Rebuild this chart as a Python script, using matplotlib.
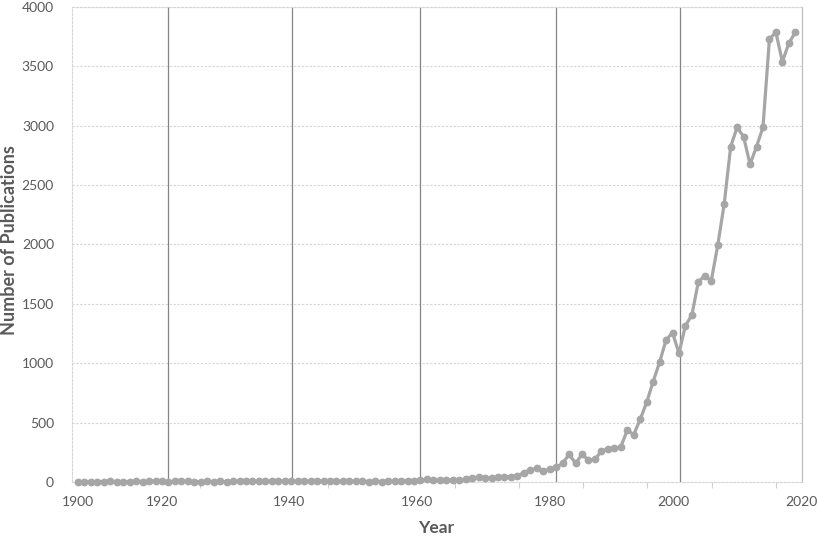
import matplotlib
matplotlib.use("Agg")
import matplotlib.pyplot as plt
import numpy as np

# ---------------- data ----------------
first_year = 1908
pubs_1908_1950 = [2, 3, 4, 3, 4, 5, 4, 3, 4, 5,
                  4, 5, 6, 5, 4, 5, 6, 5, 4, 3,
                  5, 4, 6, 2, 5, 6, 5, 7, 6, 5,
                  6, 7, 6, 5, 7, 6, 5, 6, 7, 5,
                  6, 7, 6]
pubs_1951_1960 = [5, 6, 4, 7, 3, 8, 9, 10, 11, 12]
pubs_1961_1976 = [17, 22, 15, 15, 20, 16, 18, 24, 30, 38, 35, 32, 40, 45, 46, 52]
pubs_1977_2019 = [78, 101, 115, 95, 107, 124, 157, 233, 157, 233,
                  185, 191, 261, 278, 284, 297, 435, 400, 528, 670,
                  845, 1008, 1196, 1258, 1083, 1317, 1406, 1687, 1737, 1695,
                  1993, 2341, 2824, 2987, 2908, 2675, 2824, 2987, 3731, 3787,
                  3539, 3694, 3787]
publications = pubs_1908_1950 + pubs_1951_1960 + pubs_1961_1976 + pubs_1977_2019
years = np.arange(first_year, first_year + len(publications))

x_tick_labels = ["1900", "1920", "1940", "1960", "1980", "2000", "2020"]
y_ticks = [0, 500, 1000, 1500, 2000, 2500, 3000, 3500, 4000]

# ---------------- layout (pixel geometry of the reference) ----------------
W, H = 817, 536
ax_left_px, ax_right_px, ax_top_px, ax_bottom_px = 72, 802, 7, 482
xlim = (1907.07, 2020.04)

def px_to_x(p):
    return xlim[0] + (p - ax_left_px) / (ax_right_px - ax_left_px) * (xlim[1] - xlim[0])

label_px = [78, 162, 289, 417, 550, 673, 801]
grid_px = [168, 292, 420, 556, 680]
minor_px = [200, 328, 455, 519, 583, 647, 712, 776]

plt.rcParams['font.family'] = ['Lato', 'DejaVu Sans']
text_col = '#595959'
line_col = '#a6a6a6'

fig = plt.figure(figsize=(W / 100, H / 100), dpi=100)
ax = fig.add_axes([ax_left_px / W, 1 - ax_bottom_px / H,
                   (ax_right_px - ax_left_px) / W, (ax_bottom_px - ax_top_px) / H])

ax.set_xlim(*xlim)
ax.set_ylim(0, 4000)

# horizontal dotted gridlines
for yv in y_ticks[1:]:
    ax.axhline(yv, color='#d6d6d6', lw=0.8, ls=(0, (2, 1.5)), zorder=1)
# dark vertical gridlines
for gp in grid_px:
    ax.axvline(px_to_x(gp), color='#858585', lw=0.9, zorder=1)

ax.plot(years, publications, color=line_col, lw=2.3, marker='o',
        markersize=4.6, markerfacecolor=line_col, markeredgecolor=line_col,
        zorder=3, clip_on=False)

ax.set_yticks(y_ticks)
ax.set_yticklabels([str(v) for v in y_ticks])
ax.tick_params(axis='y', length=0, pad=13, labelsize=10, labelcolor=text_col)

ax.set_xticks([px_to_x(p) for p in label_px])
ax.set_xticklabels(x_tick_labels)
ax.tick_params(axis='x', which='major', length=0, pad=10, labelsize=10, labelcolor=text_col)
ax.set_xticks([px_to_x(p) for p in minor_px], minor=True)
ax.tick_params(axis='x', which='minor', length=4, width=0.8, color='#d0d0d0', direction='out')

for side in ['left', 'top', 'bottom']:
    ax.spines[side].set_color('#d6d6d6')
    ax.spines[side].set_linewidth(0.8)
    ax.spines[side].set_linestyle((0, (2, 1.5)))
ax.spines['right'].set_color('#bfbfbf')
ax.spines['right'].set_linewidth(0.9)

fig.text(436 / W, 1 - 528 / H, "Year", ha='center', va='center',
         fontsize=12.5, fontweight='bold', color=text_col)
fig.text(10 / W, 1 - 240 / H, "Number of Publications", ha='center', va='center',
         rotation=90, fontsize=13, fontweight='bold', color=text_col)

fig.savefig("out.png", dpi=100)
